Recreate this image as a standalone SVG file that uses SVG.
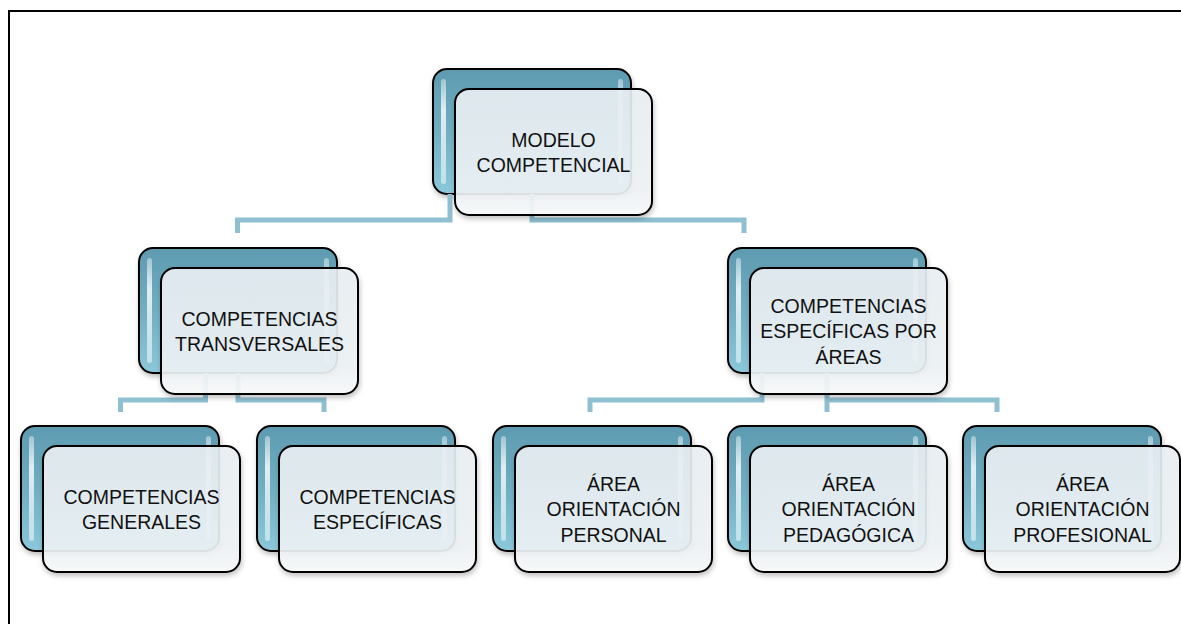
<svg xmlns="http://www.w3.org/2000/svg" width="1181" height="624" viewBox="0 0 1181 624">
<style>
.back{fill:url(#gBack);stroke:#000;stroke-width:2}
.gloss{fill:url(#gGloss)}
.front{fill:url(#gFront);fill-opacity:0.9;stroke:#000;stroke-width:2}
.conn{fill:none;stroke:#8fc0d2;stroke-width:5;stroke-linejoin:miter}
.lbl{font-family:"Liberation Sans",Arial,sans-serif;font-size:19.5px;fill:#111;text-anchor:middle}
</style>
<defs>
<linearGradient id="gBack" x1="0" y1="0" x2="0" y2="1">
<stop offset="0" stop-color="#5e9bb0"/>
<stop offset="0.5" stop-color="#70aec2"/>
<stop offset="1" stop-color="#8bc8da"/>
</linearGradient>
<linearGradient id="gGloss" x1="0" y1="0" x2="0" y2="1">
<stop offset="0" stop-color="#fff" stop-opacity="0.4"/>
<stop offset="0.3" stop-color="#fff" stop-opacity="0.8"/>
<stop offset="1" stop-color="#fff" stop-opacity="0.5"/>
</linearGradient>
<linearGradient id="gFront" x1="0" y1="0" x2="0" y2="1">
<stop offset="0" stop-color="#eaf0f4"/>
<stop offset="0.8" stop-color="#eef3f6"/>
<stop offset="1" stop-color="#f9fbfc"/>
</linearGradient>
<filter id="sh" x="-10%" y="-10%" width="125%" height="130%">
<feDropShadow dx="1" dy="3" stdDeviation="2.5" flood-color="#000" flood-opacity="0.25"/>
</filter>
<g id="backShape">
<rect class="back" x="0" y="0" width="198" height="125" rx="14"/>
<rect class="gloss" x="8" y="10" width="5" height="105" rx="2.5"/>
<rect class="gloss" x="185" y="10" width="5" height="105" rx="2.5"/>
</g>
</defs>

<path d="M9,624 V11 H1181" fill="none" stroke="#000" stroke-width="2"/>

<g id="back-layer">
<use href="#backShape" x="433" y="69" filter="url(#sh)"/>
<use href="#backShape" x="139" y="248" filter="url(#sh)"/>
<use href="#backShape" x="728" y="248" filter="url(#sh)"/>
<use href="#backShape" x="21" y="426" filter="url(#sh)"/>
<use href="#backShape" x="257" y="426" filter="url(#sh)"/>
<use href="#backShape" x="493" y="426" filter="url(#sh)"/>
<use href="#backShape" x="728" y="426" filter="url(#sh)"/>
<use href="#backShape" x="963" y="426" filter="url(#sh)"/>
</g>

<g id="connectors">
<path class="conn" d="M450,194 V220 H237.5 V233"/>
<path class="conn" d="M532,194 V220 H744 V233"/>
<path class="conn" d="M205.5,373 V400 H120.5 V412"/>
<path class="conn" d="M238,373 V400 H324 V412"/>
<path class="conn" d="M762,373 V400 H590 V412"/>
<path class="conn" d="M827,373 V412"/>
<path class="conn" d="M827,400 H997 V412"/>
</g>

<g id="n-modelo">
<rect class="front" x="455" y="89" width="197" height="126" rx="14" filter="url(#sh)"/>
<text class="lbl" x="553.5" y="146.5">MODELO</text>
<text class="lbl" x="553.5" y="172">COMPETENCIAL</text>
</g>
<g id="n-transversales">
<rect class="front" x="161" y="268" width="197" height="126" rx="14" filter="url(#sh)"/>
<text class="lbl" x="259.5" y="325.5">COMPETENCIAS</text>
<text class="lbl" x="259.5" y="351">TRANSVERSALES</text>
</g>
<g id="n-especificas-areas">
<rect class="front" x="750" y="268" width="197" height="126" rx="14" filter="url(#sh)"/>
<text class="lbl" x="848.5" y="312.5">COMPETENCIAS</text>
<text class="lbl" x="848.5" y="338">ESPECÍFICAS POR</text>
<text class="lbl" x="848.5" y="363.5">ÁREAS</text>
</g>
<g id="n-generales">
<rect class="front" x="43" y="446" width="197" height="126" rx="14" filter="url(#sh)"/>
<text class="lbl" x="141.5" y="503.5">COMPETENCIAS</text>
<text class="lbl" x="141.5" y="529">GENERALES</text>
</g>
<g id="n-especificas">
<rect class="front" x="279" y="446" width="197" height="126" rx="14" filter="url(#sh)"/>
<text class="lbl" x="377.5" y="503.5">COMPETENCIAS</text>
<text class="lbl" x="377.5" y="529">ESPECÍFICAS</text>
</g>
<g id="n-personal">
<rect class="front" x="515" y="446" width="197" height="126" rx="14" filter="url(#sh)"/>
<text class="lbl" x="613.5" y="490.5">ÁREA</text>
<text class="lbl" x="613.5" y="516">ORIENTACIÓN</text>
<text class="lbl" x="613.5" y="541.5">PERSONAL</text>
</g>
<g id="n-pedagogica">
<rect class="front" x="750" y="446" width="197" height="126" rx="14" filter="url(#sh)"/>
<text class="lbl" x="848.5" y="490.5">ÁREA</text>
<text class="lbl" x="848.5" y="516">ORIENTACIÓN</text>
<text class="lbl" x="848.5" y="541.5">PEDAGÓGICA</text>
</g>
<g id="n-profesional">
<rect class="front" x="985" y="446" width="195" height="126" rx="14" filter="url(#sh)"/>
<text class="lbl" x="1082.5" y="490.5">ÁREA</text>
<text class="lbl" x="1082.5" y="516">ORIENTACIÓN</text>
<text class="lbl" x="1082.5" y="541.5">PROFESIONAL</text>
</g>
</svg>
